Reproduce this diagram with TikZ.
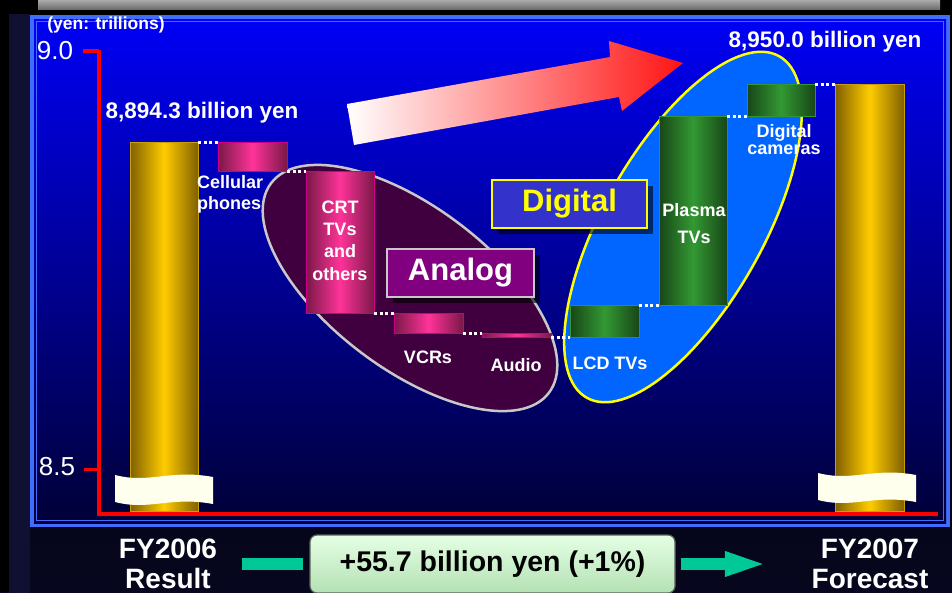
\documentclass[tikz,border=0pt]{standalone}
\usepackage{fontspec}
\setmainfont{Liberation Sans}
\usetikzlibrary{shapes.geometric,shadows,arrows.meta}
\definecolor{bgMid}{RGB}{44,44,150}
\definecolor{bgBot}{RGB}{6,6,30}
\definecolor{stripEnd}{RGB}{16,16,50}
\definecolor{stripMid}{RGB}{55,55,180}
\definecolor{barGreyA}{RGB}{170,170,170}
\definecolor{barGreyB}{RGB}{228,228,228}
\definecolor{barGreyC}{RGB}{110,110,110}
\definecolor{frameBlue}{RGB}{64,108,255}
\definecolor{panelTop}{RGB}{0,0,245}
\definecolor{panelMid}{RGB}{0,0,185}
\definecolor{panelBot}{RGB}{0,0,55}
\definecolor{axisRed}{RGB}{255,0,0}
\definecolor{goldBright}{RGB}{255,204,0}
\definecolor{goldDark}{RGB}{128,96,0}
\definecolor{goldEdge}{RGB}{200,160,0}
\definecolor{pinkBright}{RGB}{255,51,153}
\definecolor{pinkDark}{RGB}{122,24,72}
\definecolor{pinkEdge}{RGB}{204,0,136}
\definecolor{greenBright}{RGB}{51,153,51}
\definecolor{greenDark}{RGB}{24,70,24}
\definecolor{greenEdge}{RGB}{51,150,51}
\definecolor{analogFill}{RGB}{64,0,64}
\definecolor{analogEdge}{RGB}{200,200,200}
\definecolor{digitalFill}{RGB}{0,102,255}
\definecolor{digitalEdge}{RGB}{255,255,0}
\definecolor{labelPurple}{RGB}{128,0,128}
\definecolor{labelBlue}{RGB}{51,51,204}
\definecolor{creamBreak}{RGB}{255,255,238}
\definecolor{tealArrow}{RGB}{0,200,150}
\definecolor{arrowRed}{RGB}{255,20,20}
\definecolor{arrowPink}{RGB}{255,202,202}
\definecolor{resultTop}{RGB}{228,255,228}
\definecolor{resultBot}{RGB}{180,225,180}
\definecolor{resultEdge}{RGB}{90,100,90}
\tikzset{
  barbase/.style={rectangle, line width=1pt, inner sep=0pt, outer sep=0pt},
  goldbar/.style={barbase, draw=goldEdge, left color=goldDark, right color=goldDark, middle color=goldBright},
  pinkbox/.style={barbase, draw=pinkEdge, left color=pinkDark, right color=pinkDark, middle color=pinkBright},
  greenbox/.style={barbase, draw=greenEdge, left color=greenDark, right color=greenDark, middle color=greenBright},
  levelline/.style={draw=white, line width=3pt, dash pattern=on 3pt off 2.5pt},
  zone/.style={ellipse, line width=2.5pt, inner sep=0pt, outer sep=0pt},
  itemlabel/.style={text=white, font=\fontsize{18}{21}\selectfont\bfseries, inner sep=0pt, align=center},
  valuelabel/.style={text=white, font=\fontsize{22.5}{26}\selectfont\bfseries, inner sep=0pt},
  unitlabel/.style={text=white, font=\fontsize{17.5}{20}\selectfont\bfseries, inner sep=0pt},
  ticklabel/.style={text=white, font=\fontsize{26}{30}\selectfont, inner sep=0pt},
  tagbox/.style={rectangle, line width=2.5pt, inner sep=0pt, font=\fontsize{31}{36}\selectfont\bfseries,
    drop shadow={shadow xshift=6pt, shadow yshift=-6pt, fill=black, opacity=0.6}},
  yearlabel/.style={text=white, font=\fontsize{28}{30}\selectfont\bfseries, inner sep=0pt, align=center},
  deltabox/.style={rectangle, rounded corners=7pt, draw=resultEdge, line width=1.2pt, top color=resultTop,
    bottom color=resultBot, minimum width=365pt, minimum height=58pt, inner sep=0pt,
    font=\fontsize{28.5}{32}\selectfont\bfseries, text=black},
  tealline/.style={draw=tealArrow, line width=11.5pt}
}
\begin{document}
\begin{tikzpicture}[x=1pt,y=-1pt]
\useasboundingbox (0,0) rectangle (952,592);
% slide background
\shade[top color=black, middle color=bgMid, bottom color=bgBot] (0,0) rectangle (952,592);
\shade[top color=stripEnd, middle color=stripMid, bottom color=stripEnd] (9,14) rectangle (30,592);
\fill[black] (0,0) rectangle (9,592);
\fill[black] (0,0) rectangle (952,14);
\shade[top color=barGreyA, middle color=barGreyB, bottom color=barGreyC] (38,0) rectangle (940,9);
% chart panel
\fill[frameBlue] (30,15) rectangle (950,527);
\shade[top color=panelTop, middle color=panelMid, bottom color=panelBot] (34,19) rectangle (946,523);
\draw[frameBlue, line width=1pt] (36.5,21.5) rectangle (943.5,520.5);
% groups
\node[zone, fill=analogFill, draw=analogEdge, minimum width=348pt, minimum height=162pt, rotate=-37] (analogzone) at (410,288) {};
\node[zone, fill=digitalFill, draw=digitalEdge, minimum width=392pt, minimum height=160pt, rotate=60.6] (digitalzone) at (683,227) {};
% big trend arrow
\shade[left color=white, middle color=arrowPink, right color=arrowRed]
  (347,104) -- (610,57) -- (609,41) -- (683,63) -- (622,111) -- (619,97) -- (354,145) -- cycle;
% bars
\node[goldbar, minimum width=68pt, minimum height=369pt] (bar1) at (164,326.5) {};
\node[goldbar, minimum width=69pt, minimum height=427pt] (bar2) at (869.5,297.5) {};
\node[pinkbox, minimum width=69pt, minimum height=29pt] (cell) at (252.5,156.5) {};
\node[pinkbox, minimum width=68pt, minimum height=142pt] (crt) at (340,242) {};
\node[pinkbox, minimum width=69pt, minimum height=20pt] (vcr) at (428.5,323) {};
\node[pinkbox, minimum width=69pt, minimum height=4pt] (audio) at (516.5,335) {};
\node[greenbox, minimum width=69pt, minimum height=32pt] (lcd) at (604.5,321) {};
\node[greenbox, minimum width=68pt, minimum height=189pt] (plasma) at (693,210.5) {};
\node[greenbox, minimum width=68pt, minimum height=32pt] (dcam) at (781,100) {};
% axis breaks
\fill[creamBreak] (115,475) .. controls (150,484) and (170,469) .. (213,477) -- (213,504) .. controls (170,496) and (150,511) .. (115,502) -- cycle;
\begin{scope}[shift={(703,-2)}]
\fill[creamBreak] (115,475) .. controls (150,484) and (170,469) .. (213,477) -- (213,504) .. controls (170,496) and (150,511) .. (115,502) -- cycle;
\end{scope}
% axis
\draw[axisRed, line width=3.5pt] (83,51) -- (99,51);
\draw[axisRed, line width=3pt] (84,469.5) -- (99,469.5);
\draw[axisRed, line width=4.5pt, line join=miter] (99,49.5) -- (99,514) -- (938,514);
% level lines
\draw[levelline] (bar1.north east) -- (cell.north west);
\draw[levelline] (cell.south east) -- (crt.north west);
\draw[levelline] (crt.south east) -- (vcr.north west);
\draw[levelline] (vcr.south east) -- (audio.north west);
\draw[levelline] (audio.south east) -- (lcd.south west);
\draw[levelline] (lcd.north east) -- (plasma.south west);
\draw[levelline] (plasma.north east) -- (dcam.south west);
\draw[levelline] (dcam.north east) -- (bar2.north west);
% item labels
\node[itemlabel, align=left, anchor=west] (cellLbl) at (197,194) {Cellular\\phones};
\node[itemlabel, font=\fontsize{18}{22.3}\selectfont\bfseries] (crtLbl) at (340,240.5) {CRT\\TVs\\and\\others};
\node[itemlabel] (vcrLbl) at (428,357) {VCRs};
\node[itemlabel] (audioLbl) at (516,365) {Audio};
\node[itemlabel] (lcdLbl) at (610,363) {LCD TVs};
\node[itemlabel, font=\fontsize{18}{27}\selectfont\bfseries] (plasmaLbl) at (694,223.5) {Plasma\\TVs};
\node[itemlabel, font=\fontsize{18}{17}\selectfont\bfseries] (dcamLbl) at (784,140) {Digital\\cameras};
% group tags
\node[tagbox, fill=labelPurple, draw=analogEdge, text=white, minimum width=147pt, minimum height=48pt] (analogTag) at (460.5,273) {Analog};
\node[tagbox, fill=labelBlue, draw=digitalEdge, text=digitalEdge, minimum width=155pt, minimum height=48pt] (digitalTag) at (569.5,204) {Digital};
% values and axis labels
\node[valuelabel] (startVal) at (202,113) {8,894.3 billion yen};
\node[valuelabel] (endVal) at (825,42) {8,950.0 billion yen};
\node[unitlabel] (unit) at (106,25) {(yen: trillions)};
\node[ticklabel] (t90) at (55,51) {9.0};
\node[ticklabel] (t85) at (57,467) {8.5};
% bottom summary
\node[yearlabel] (fy06) at (168,564) {FY2006\\Result};
\node[yearlabel] (fy07) at (870,564) {FY2007\\Forecast};
\node[deltabox] (delta) at (492.5,564) {+55.7 billion yen (+1\%)};
\draw[tealline, shorten <=24.5pt, shorten >=6pt] (fy06.east) -- (delta.west);
\draw[tealline, -{Triangle[length=43pt,width=22pt]}, shorten <=5pt, shorten >=43.5pt] (delta.east) -- (fy07.west);
\end{tikzpicture}
\end{document}
